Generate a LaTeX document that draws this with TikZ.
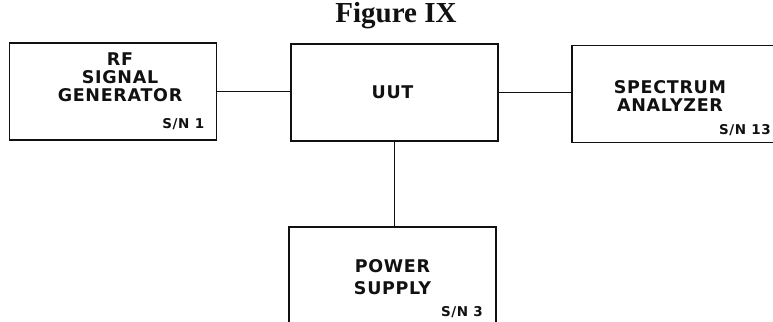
\documentclass[tikz,border=0pt]{standalone}
\usepackage{fontspec}
\usepackage{xcolor}
\usepackage{tikz}
\usetikzlibrary{positioning}
\setmainfont{Liberation Serif}
\newfontfamily\cadfont{DejaVu Sans}[LetterSpace=4]
\definecolor{ink}{HTML}{111111}

\begin{document}
\begin{tikzpicture}[
  x=1pt, y=-1pt,
  box/.style={rectangle, draw=ink, line width=1.7pt, minimum width=207pt,
    minimum height=97pt, inner sep=0pt},
  lbl/.style={text=ink, align=center, inner sep=0pt,
    font=\cadfont\bfseries\fontsize{17.5}{18}\selectfont},
  sn/.style={text=ink, inner sep=0pt, anchor=south east,
    font=\cadfont\bfseries\fontsize{13.5}{14}\selectfont},
  wire/.style={draw=ink, line width=1.3pt}
]
\useasboundingbox[fill=white] (0,0) rectangle (773,321);

\node[font=\bfseries\fontsize{29}{30}\selectfont, text=ink, anchor=base] (title) at (396,23) {Figure IX};

\node[box] (gen) at (113,91.5) {};
\node[box] (uut) at (394.5,92.5) {};
\node[box, minimum width=220pt] (spec) at (682,94) {};
\node[box] (psu) at (392.5,275.5) {};

\node[lbl] (gentxt) at ([xshift=7pt, yshift=14pt]gen.center) {RF\\SIGNAL\\GENERATOR};
\node[lbl] (uuttxt) at ([xshift=-2pt]uut.center) {UUT};
\node[lbl] (spectxt) at ([xshift=-12pt, yshift=-2pt]spec.center) {SPECTRUM\\ANALYZER};
\node[lbl, font=\cadfont\bfseries\fontsize{17.5}{22}\selectfont] (psutxt) at ([yshift=-2pt]psu.center) {POWER\\SUPPLY};

\node[sn] (gensn) at ([shift={(-13pt,11pt)}]gen.south east) {S/N 1};
\node[sn] (specsn) at (771,136) {S/N 13};
\node[sn] (psusn) at (483,318) {S/N 3};

\draw[wire] (gen.east) -- (uut.west |- gen.east);
\draw[wire] (uut.east) -- (spec.west |- uut.east);
\draw[wire] (uut.south) -- (uut.south |- psu.north);
\end{tikzpicture}
\end{document}
